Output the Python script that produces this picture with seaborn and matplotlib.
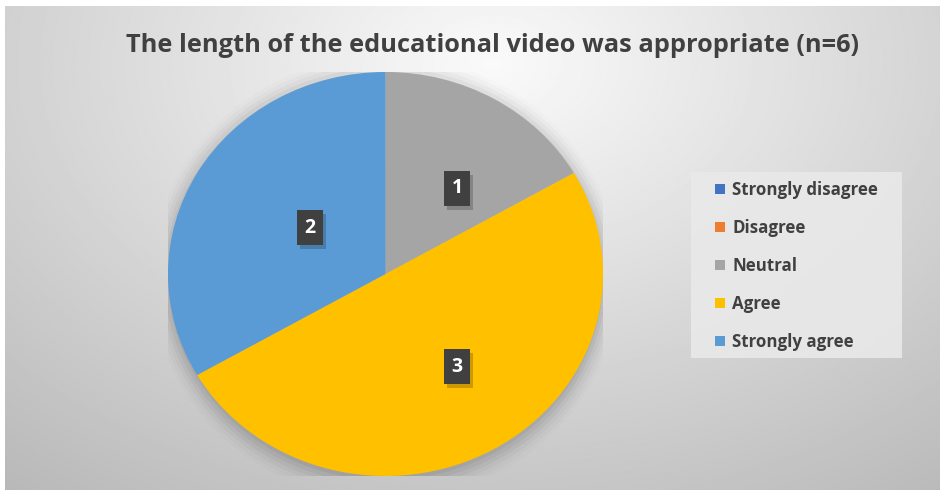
import numpy as np
import matplotlib
matplotlib.use("Agg")
import matplotlib.pyplot as plt
import matplotlib.patheffects as pe
import seaborn as sns
from matplotlib.patches import Patch, Ellipse, Rectangle

categories = ["Strongly disagree", "Disagree", "Neutral", "Agree", "Strongly agree"]
counts = [0, 0, 1, 3, 2]
colors = ["#4472C4", "#ED7D31", "#A5A5A5", "#FFC000", "#5B9BD5"]
title = "The length of the educational video was appropriate (n=6)"

sns.set_theme(style="white")
plt.rcParams["font.family"] = ["Open Sans", "DejaVu Sans"]

W, H = 945, 490
fig = plt.figure(figsize=(W / 100, H / 100), dpi=100)
fig.patch.set_facecolor("white")

# gradient background
bg = fig.add_axes([5 / W, 0, 935 / W, 1 - 6 / H], zorder=-5)
yy, xx = np.mgrid[0:1:300j, 0:1:600j]
r = np.sqrt(((xx - 0.52) / 0.75) ** 2 + ((yy - 0.12) / 1.0) ** 2)
vals = 0.98 - 0.23 * np.clip(r, 0, 1.2)
bg.imshow(vals, cmap="gray", vmin=0, vmax=1, aspect="auto", extent=[0, 1, 1, 0], interpolation="bilinear")
bg.set_axis_off()

# pie axes
ax = fig.add_axes([168 / W, 1 - 476 / H, 435 / W, 404 / H])
for i, a in enumerate(np.linspace(0.05, 0.01, 6)):
    ax.add_patch(Ellipse((0.0, -0.02), 2.0 + 0.03 * i, 2.0 + 0.04 * i, color="black", alpha=a, lw=0, zorder=0))

pal = sns.color_palette(colors)
wedges, _ = ax.pie(counts, colors=pal, startangle=90, counterclock=False,
                   radius=1.0, wedgeprops=dict(linewidth=0, zorder=2))
label_scale = {"Neutral": (0.66, 0.49), "Agree": (0.66, 0.53), "Strongly agree": (0.40, 0.46)}
for w, c, name in zip(wedges, counts, categories):
    if c == 0:
        continue
    ang = np.deg2rad((w.theta1 + w.theta2) / 2)
    sx, sy = label_scale[name]
    x, y = sx * np.cos(ang), sy * np.sin(ang)
    t = ax.text(x, y, str(c), ha="center", va="center",
                color="white", fontsize=14, fontweight="bold", zorder=5,
                bbox=dict(boxstyle="square,pad=0.38", facecolor="#404040", edgecolor="none"))
    t.get_bbox_patch().set_path_effects([
        pe.SimplePatchShadow(offset=(2, -3), shadow_rgbFace="black", alpha=0.2), pe.Normal()])
ax.set_aspect("auto")
ax.set_xlim(-1, 1)
ax.set_ylim(-1, 1)
ax.set_axis_off()

fig.text(493 / W, 1 - 45 / H, title, ha="center", va="center", fontsize=18.3,
         fontweight="bold", color="#404040")

# legend box
fig.patches.append(Rectangle((691 / W, 1 - 358 / H), 211 / W, 186 / H,
                             transform=fig.transFigure, facecolor="#e9e9e9",
                             edgecolor="none", alpha=0.9, zorder=1))
handles = [Patch(facecolor=c, edgecolor="none") for c in colors]
leg = fig.legend(handles, categories, loc="upper left",
                 bbox_to_anchor=(712 / W, 1 - 178 / H), frameon=False,
                 prop=dict(size=12.2, weight="bold"), labelspacing=1.17,
                 handlelength=0.55, handleheight=0.55, handletextpad=0.45,
                 borderpad=0.2, borderaxespad=0)
for t in leg.get_texts():
    t.set_color("#404040")

fig.savefig("out.png", dpi=100)
